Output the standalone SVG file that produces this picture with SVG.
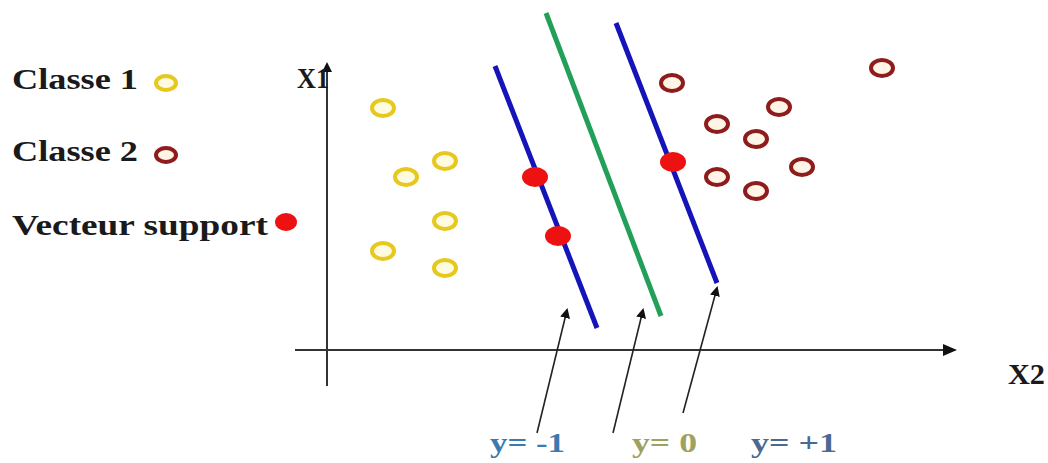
<svg xmlns="http://www.w3.org/2000/svg" width="1048" height="463" viewBox="0 0 1048 463">
<style>
.lbl{font-family:"Liberation Serif","Times New Roman",serif;font-weight:bold;font-size:29px;fill:#1a1a1a}
.yl{font-family:"Liberation Serif","Times New Roman",serif;font-weight:bold;font-size:28px}
.c1{fill:#fffbe0;stroke:#e6c81e;stroke-width:4}
.c2{fill:#fff4e6;stroke:#8e1c1c;stroke-width:4}
.sv{fill:#ee1111}
.axis{stroke:#333;stroke-width:2;fill:none}
.ptr{stroke:#222;stroke-width:1.6;fill:none}
</style>
<defs>
<marker id="ah" markerWidth="10" markerHeight="10" refX="8" refY="5" orient="auto" markerUnits="userSpaceOnUse">
<path d="M0,0 L10,5 L0,10 Z" fill="#111"/>
</marker>
<marker id="ah2" markerWidth="14" markerHeight="12" refX="12" refY="6" orient="auto" markerUnits="userSpaceOnUse">
<path d="M0,0 L14,6 L0,12 Z" fill="#111"/>
</marker>
</defs>
<rect width="1048" height="463" fill="#fff"/>
<g id="legend">
<text class="lbl" x="12" y="89" textLength="126" lengthAdjust="spacingAndGlyphs">Classe 1</text>
<ellipse class="c1" cx="166" cy="83" rx="10" ry="7"/>
<text class="lbl" x="12" y="161" textLength="126" lengthAdjust="spacingAndGlyphs">Classe 2</text>
<ellipse class="c2" cx="166" cy="155" rx="10" ry="7"/>
<text class="lbl" x="12" y="235" textLength="256" lengthAdjust="spacingAndGlyphs">Vecteur support</text>
<ellipse class="sv" cx="286" cy="222" rx="11" ry="9"/>
</g>
<g id="axes">
<line class="axis" x1="327" y1="386" x2="327" y2="64" marker-end="url(#ah)"/>
<line class="axis" x1="295" y1="350" x2="955" y2="350" marker-end="url(#ah2)"/>
<text class="lbl" x="297" y="88" textLength="32" lengthAdjust="spacingAndGlyphs">X1</text>
<text class="lbl" x="1008" y="384" textLength="37" lengthAdjust="spacingAndGlyphs">X2</text>
</g>
<g id="lines">
<line x1="495" y1="66" x2="597" y2="328" stroke="#1414b8" stroke-width="5"/>
<line x1="546" y1="13" x2="661" y2="316" stroke="#22a05a" stroke-width="5"/>
<line x1="616" y1="23" x2="717" y2="283" stroke="#1414b8" stroke-width="5"/>
</g>
<g id="class1">
<ellipse class="c1" cx="383" cy="108" rx="11" ry="8"/>
<ellipse class="c1" cx="406" cy="177" rx="11" ry="8"/>
<ellipse class="c1" cx="445" cy="161" rx="11" ry="8"/>
<ellipse class="c1" cx="445" cy="221" rx="11" ry="8"/>
<ellipse class="c1" cx="383" cy="251" rx="11" ry="8"/>
<ellipse class="c1" cx="445" cy="268" rx="11" ry="8"/>
</g>
<g id="class2">
<ellipse class="c2" cx="672" cy="83" rx="11" ry="8"/>
<ellipse class="c2" cx="882" cy="68" rx="11" ry="8"/>
<ellipse class="c2" cx="717" cy="124" rx="11" ry="8"/>
<ellipse class="c2" cx="779" cy="107" rx="11" ry="8"/>
<ellipse class="c2" cx="756" cy="139" rx="11" ry="8"/>
<ellipse class="c2" cx="717" cy="177" rx="11" ry="8"/>
<ellipse class="c2" cx="802" cy="167" rx="11" ry="8"/>
<ellipse class="c2" cx="756" cy="191" rx="11" ry="8"/>
</g>
<g id="support">
<ellipse class="sv" cx="535" cy="177" rx="13" ry="10"/>
<ellipse class="sv" cx="558" cy="236" rx="13" ry="10"/>
<ellipse class="sv" cx="673" cy="162" rx="13" ry="10"/>
</g>
<g id="connectors">
<line class="ptr" x1="537" y1="433" x2="567" y2="310" marker-end="url(#ah)"/>
<line class="ptr" x1="613" y1="433" x2="643" y2="310" marker-end="url(#ah)"/>
<line class="ptr" x1="683" y1="413" x2="717" y2="288" marker-end="url(#ah)"/>
</g>
<g id="ylabels">
<text class="yl" x="490" y="452" fill="#3a7ab0" textLength="75" lengthAdjust="spacingAndGlyphs">y= -1</text>
<text class="yl" x="632" y="452" fill="#a0a060" textLength="65" lengthAdjust="spacingAndGlyphs">y= 0</text>
<text class="yl" x="751" y="452" fill="#4a6a92" textLength="86" lengthAdjust="spacingAndGlyphs">y= +1</text>
</g>
</svg>
